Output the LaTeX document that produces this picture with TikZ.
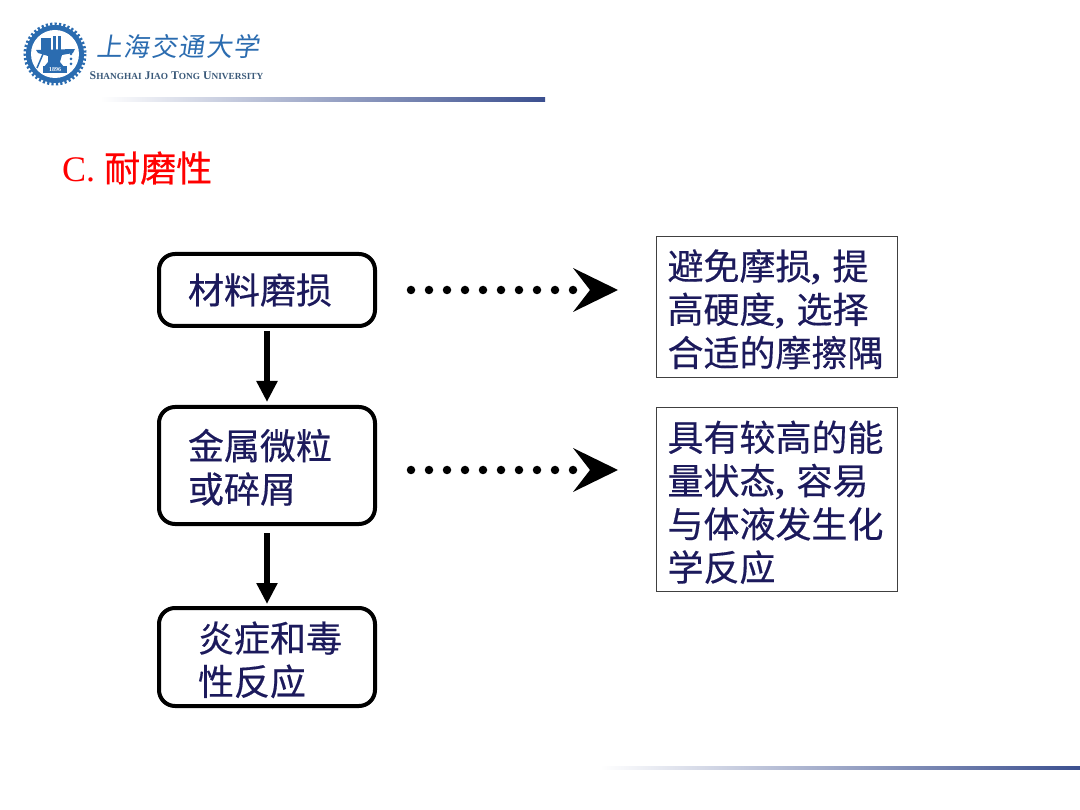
\documentclass[tikz,border=0pt]{standalone}
\usepackage{fontspec}
\setmainfont{Liberation Serif}
\newfontfamily\cjk{Noto Sans CJK SC}[UprightFeatures={FakeBold=0.4}]
\newfontfamily\cjklogo{Noto Sans CJK SC}
\usetikzlibrary{arrows.meta,calc}
\definecolor{navytext}{HTML}{1C1A5C}
\definecolor{sjtublue}{HTML}{2B6CB0}
\definecolor{barblue}{HTML}{3B4F8F}
\newcommand{\cj}[1]{{\cjk #1}}
\newcommand{\nudge}[1]{\rule{0pt}{#1}}
\newcommand{\lc}[1]{{\fontsize{9.3}{10}\selectfont #1}}
\tikzset{
  x=1pt,y=-1pt,
  flowbox/.style={draw=black,line width=4pt,rounded corners=16pt,minimum width=216pt,fill=white,outer sep=0pt,
    inner xsep=29pt,text width=158pt,text=navytext,align=left,anchor=north west,font=\fontsize{36}{43.3}\selectfont\cjk},
  notebox/.style={draw=black!75,line width=1pt,minimum width=241pt,text width=219pt,inner xsep=11pt,inner ysep=0pt,
    text=navytext,align=left,anchor=north west,font=\fontsize{36}{43.3}\selectfont},
  downarrow/.style={line width=6pt,-{Triangle[length=21pt,width=20pt]}},
  dotline/.style={line width=8.5pt,line cap=round,dash pattern=on 0pt off 18pt,shorten <=36pt,shorten >=70pt},
  dothead/.style={line width=0.1pt,draw=black,-{Stealth[length=45pt,width=44pt,inset=17pt,line width=0pt,fill=black]},shorten <=215pt,shorten >=38pt},
}
\begin{document}
\begin{tikzpicture}
\useasboundingbox (0,0) rectangle (1080,810);
\fill[white] (0,0) rectangle (1080,810);
% header and footer bars
\shade[left color=white,right color=barblue] (100,98) rectangle (545,102);
\shade[left color=white,right color=barblue] (600,766) rectangle (1080,769);
% logo
\fill[sjtublue] (55,54) circle (29);
\draw[sjtublue,line width=3pt,dash pattern=on 2.2pt off 2.2pt] (55,54) circle (30);
\fill[white] (55,54) circle (24);
\fill[sjtublue] (41,38) rectangle (51,50);
\fill[sjtublue] (53,36) rectangle (56,50);
\fill[sjtublue] (58,36) rectangle (61,50);
\fill[sjtublue] (36,50) -- (75,49) -- (73,53) -- (62,55) -- (60,62) -- (64,67) -- (44,67) -- (48,62) -- (48,56) -- (38,53) -- cycle;
\draw[sjtublue,line width=1.5pt] (43,54) -- (37,68);
\fill[sjtublue] (71,54) circle (1.5) (71,59) circle (1.5) (71,64) circle (1.5);
\fill[sjtublue] (43,66) rectangle (67,73);
\node[text=white,font=\fontsize{6}{6}\selectfont\bfseries,inner sep=0pt] (year) at (55,69.5) {1896};
\node[text=sjtublue,font=\fontsize{26}{29}\selectfont\cjklogo,inner sep=0pt,xslant=0.15] (univ) at (179.5,47)
  {上\hspace{1.6pt}海\hspace{1.6pt}交\hspace{1.6pt}通\hspace{1.6pt}大\hspace{1.6pt}学};
\node[text=sjtublue!55!black!85,inner sep=0pt,font=\fontsize{11.8}{12}\selectfont\bfseries] (univen) at (176.5,76)
  {S\lc{HANGHAI} J\lc{IAO} T\lc{ONG} U\lc{NIVERSITY}};
% title
\node[anchor=west,inner sep=0pt,text=red,font=\fontsize{36}{40}\selectfont] (title) at (62,168) {C. \cj{耐磨性}};
% flow boxes
\node[flowbox,minimum height=72pt] (a) at (159,254) {材料磨损};
\node[flowbox,minimum height=117pt] (b) at (159,407) {\nudge{34pt}金属微粒\\或碎屑};
\node[flowbox,minimum height=98pt,inner xsep=33pt,text width=150pt] (c) at (159,608) {\nudge{36pt}\hspace*{6pt}炎症和毒\\\hspace*{6pt}性反应};
% note boxes
\node[notebox,minimum height=141pt] (n1) at (656,236) {\nudge{35pt}\cj{避免摩损}\textbf{,} \cj{提}\\\cj{高硬度}\textbf{,} \cj{选择}\\\cj{合适的摩擦隅}};
\node[notebox,minimum height=184pt] (n2) at (656,407) {\nudge{36pt}\cj{具有较高的能}\\\cj{量状态}\textbf{,} \cj{容易}\\\cj{与体液发生化}\\\cj{学反应}};
% connectors
\draw[downarrow,shorten <=5pt,shorten >=5pt] (a.south) -- (b.north);
\draw[downarrow,shorten <=9pt,shorten >=4pt] (b.south) -- (c.north);
\draw[dotline] (a.east) -- (a.east -| n1.west);
\draw[dothead] (a.east) -- (a.east -| n1.west);
\coordinate (bout) at (375,470);
\draw[dotline] (bout) -- (bout -| n2.west);
\draw[dothead] (bout) -- (bout -| n2.west);
\end{tikzpicture}
\end{document}
